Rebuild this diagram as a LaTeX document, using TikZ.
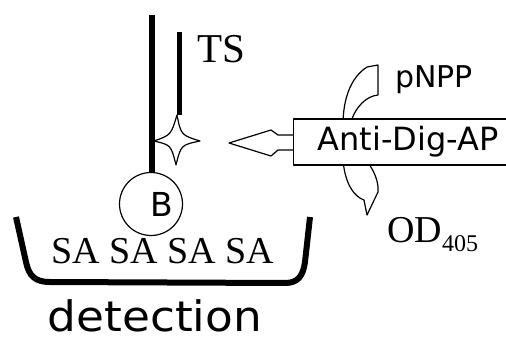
\documentclass[tikz,border=0pt]{standalone}
\usepackage{fontspec}
\setmainfont{Liberation Serif}
\newfontfamily\handfont{DejaVu Sans}
\usetikzlibrary{calc}

\begin{document}
\begin{tikzpicture}[%
    x=1pt, y=-1pt,
    every node/.style={inner sep=0pt},
    serif/.style={font=\fontsize{38}{40}\selectfont},
    hand/.style={font=\handfont\fontsize{#1}{#1}\selectfont},
    strand/.style={line width=#1},
    thin line/.style={line width=1.2pt, line join=round},
]
\useasboundingbox (0,0) rectangle (506,342);

% draw the bead and the well
\node[circle, draw, thin line, minimum size=63pt] (bio) at (151,204) {};
\node[hand=33] (bead) at ([xshift=11pt]bio.center) {B};
\draw[strand=6pt, line join=round] (16,217) -- (26,262) .. controls (29,276) and (35,282) .. (50,282)
    -- (285,283) .. controls (298,283) and (303,276) .. (305,262) -- (310,217);
\node[serif, anchor=base] (sa) at (163,263) {SA SA SA SA};
\node[hand=42, anchor=base] (det) at (155,331) {\scalebox{1.08}[1]{detection}};

% draw the two strands
\coordinate (top) at (152,15);
\coordinate (tstop) at (179,32);
\coordinate (star) at (176,140);
\draw[strand=6pt] (top) -- (top |- bio.north);
\draw[strand=5pt] (tstop) -- ($(star)+(3,-25)$);
\node[serif, font=\fontsize{41}{42}\selectfont, anchor=base west] (ts) at (197,63) {TS};

% draw the star
\draw[thin line, fill=white] ($(star)+(1,-25)$) .. controls ($(star)+(5,-5)$) .. ($(star)+(24,1)$)
    .. controls ($(star)+(5,5)$) .. ($(star)+(0,25)$)
    .. controls ($(star)+(-5,5)$) .. ($(star)+(-22,1)$)
    .. controls ($(star)+(-5,-5)$) .. cycle;

% draw the substrate turnover
\draw[thin line] (367,67) -- (378,65) -- (378,95) .. controls (367,96) and (355,106) .. (350,125);
\draw[thin line] (367,67) .. controls (350,78) and (343,100) .. (343,125);
\draw[thin line] (343,160) .. controls (345,185) and (355,197) .. (364,200) -- (367,215)
    -- (378,192) .. controls (379,182) and (374,170) .. (366,160);

% draw the antibody box and its arrow
\node[draw, thin line, fill=white, hand=32, anchor=west, minimum height=46pt, inner xsep=8pt]
    (ab) at (293,142) {\hspace{16pt}Anti-Dig-AP};
\coordinate (tip) at (229,143);
\draw[thin line] (ab.west) ++(0,-7) -- ++(-15,0) -- ++(-7,-5) -- (tip)
    -- ++(42,13) -- ++(7,-6) -- ++(15,0);

% place product labels
\node[hand=30, anchor=base west] (pnpp) at (395,88) {pNPP};
\node[serif, anchor=base west] (od) at (387,242)
    {OD\raisebox{-9pt}{\fontsize{24}{24}\selectfont 405}};
\end{tikzpicture}
\end{document}
